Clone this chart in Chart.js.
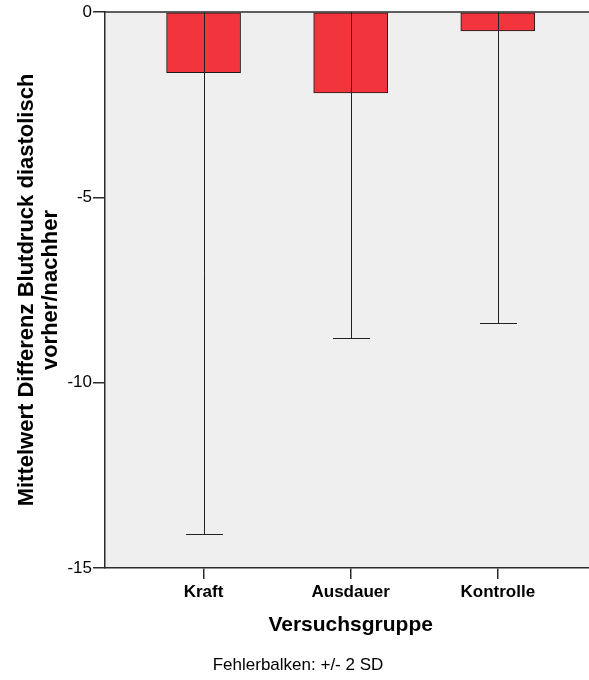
<!DOCTYPE html>
<html>
<head>
<meta charset="utf-8">
<script src="https://cdn.jsdelivr.net/npm/chart.js@4.4.1/dist/chart.umd.min.js"></script>
<style>
  html, body { margin: 0; padding: 0; background: #ffffff; }
  #wrap { width: 589px; height: 680px; position: relative; }
</style>
</head>
<body>
<div id="wrap"><canvas id="c" width="589" height="680"></canvas></div>
<script>
// ---- data ----
const categories = ['Kraft', 'Ausdauer', 'Kontrolle'];
const meanValues = [-1.64, -2.18, -0.51];      // Mittelwert Differenz
const twoSD = [12.45, 6.62, 7.88];              // error bar half-length (+/- 2 SD)
const yTickValues = [0, -5, -10, -15];
const yTitleLines = ['Mittelwert Differenz Blutdruck diastolisch', 'vorher/nachher'];
const xTitle = 'Versuchsgruppe';
const footerText = 'Fehlerbalken: +/- 2 SD';

const FONT = '"Liberation Sans", Arial, Helvetica, sans-serif';
const AXIS_COLOR = '#2b2b2b';

const plotBg = {
  id: 'plotBg',
  beforeDraw(chart) {
    const { ctx, chartArea: a } = chart;
    ctx.save();
    ctx.fillStyle = '#efefef';
    ctx.fillRect(a.left, a.top, a.right - a.left, a.bottom - a.top);
    ctx.restore();
  }
};

const errorBars = {
  id: 'errorBars',
  afterDatasetsDraw(chart) {
    const { ctx, chartArea: a, scales } = chart;
    const meta = chart.getDatasetMeta(0);
    ctx.save();
    ctx.strokeStyle = '#222';
    ctx.lineWidth = 1;
    meta.data.forEach((bar, i) => {
      const x = Math.round(bar.x) + 0.5;
      const hi = scales.y.getPixelForValue(meanValues[i] + twoSD[i]);
      const lo = scales.y.getPixelForValue(meanValues[i] - twoSD[i]);
      const yTop = Math.max(Math.min(hi, lo), a.top);
      const yBot = Math.min(Math.max(hi, lo), a.bottom);
      const half = bar.width / 4;
      ctx.beginPath();
      ctx.moveTo(x, yTop);
      ctx.lineTo(x, yBot);
      [hi, lo].forEach(py => {
        if (py >= a.top && py <= a.bottom) {
          const yy = Math.round(py) + 0.5;
          ctx.moveTo(x - half, yy);
          ctx.lineTo(x + half, yy);
        }
      });
      ctx.stroke();
    });
    // top border of plot
    ctx.strokeStyle = AXIS_COLOR;
    ctx.lineWidth = 1.5;
    ctx.beginPath();
    ctx.moveTo(a.left, a.top);
    ctx.lineTo(a.right, a.top);
    ctx.stroke();
    ctx.restore();
  }
};

const titles = {
  id: 'titles',
  afterDraw(chart) {
    const { ctx, chartArea: a } = chart;
    ctx.save();
    ctx.fillStyle = '#000';
    // x title
    ctx.font = 'bold 21px ' + FONT;
    ctx.textAlign = 'center';
    ctx.textBaseline = 'alphabetic';
    ctx.fillText(xTitle, chart.scales.x.getPixelForValue(1), 631);
    // y title (rotated, two lines)
    const cy = (a.top + a.bottom) / 2;
    ctx.translate(0, cy);
    ctx.rotate(-Math.PI / 2);
    ctx.font = 'bold 22px ' + FONT;
    ctx.fillText(yTitleLines[0], 0, 33);
    ctx.fillText(yTitleLines[1], 0, 57);
    ctx.restore();
    // footer
    ctx.save();
    ctx.fillStyle = '#000';
    ctx.font = '17px ' + FONT;
    ctx.textAlign = 'center';
    ctx.textBaseline = 'alphabetic';
    ctx.fillText(footerText, 298, 670);
    ctx.restore();
  }
};

new Chart(document.getElementById('c'), {
  type: 'bar',
  data: {
    datasets: [{
      data: categories.map((c, i) => ({ x: i, y: meanValues[i] })),
      backgroundColor: 'rgb(242,53,60)',
      borderColor: '#1a1a1a',
      borderWidth: 1,
      borderSkipped: false,
      barThickness: 74
    }]
  },
  options: {
    responsive: false,
    animation: false,
    devicePixelRatio: 1,
    layout: { padding: { top: 12, left: 0, right: 0, bottom: 0 } },
    plugins: { legend: { display: false }, tooltip: { enabled: false } },
    scales: {
      x: {
        type: 'linear',
        offset: false,
        min: -0.67,
        max: 2.62,
        afterFit(s) { s.height = 112; },
        afterBuildTicks(s) { s.ticks = categories.map((c, i) => ({ value: i })); },
        ticks: {
          callback: v => categories[v],
          color: '#000',
          font: { family: FONT, size: 17, weight: 'bold' },
          padding: 3,
          maxRotation: 0,
          autoSkip: false
        },
        grid: { display: true, offset: false, drawOnChartArea: false, drawTicks: true, tickLength: 11, color: AXIS_COLOR, lineWidth: 1.5 },
        border: { display: true, color: AXIS_COLOR, width: 1.5 }
      },
      y: {
        min: -15,
        max: 0,
        afterFit(s) { s.width = 105; },
        afterBuildTicks(s) { s.ticks = yTickValues.map(v => ({ value: v })); },
        ticks: {
          color: '#000',
          font: { family: FONT, size: 17 },
          padding: 1
        },
        grid: { display: true, drawOnChartArea: false, drawTicks: true, tickLength: 12, color: AXIS_COLOR, lineWidth: 1.5 },
        border: { display: true, color: AXIS_COLOR, width: 1.5 }
      }
    }
  },
  plugins: [plotBg, errorBars, titles]
});
</script>
</body>
</html>
